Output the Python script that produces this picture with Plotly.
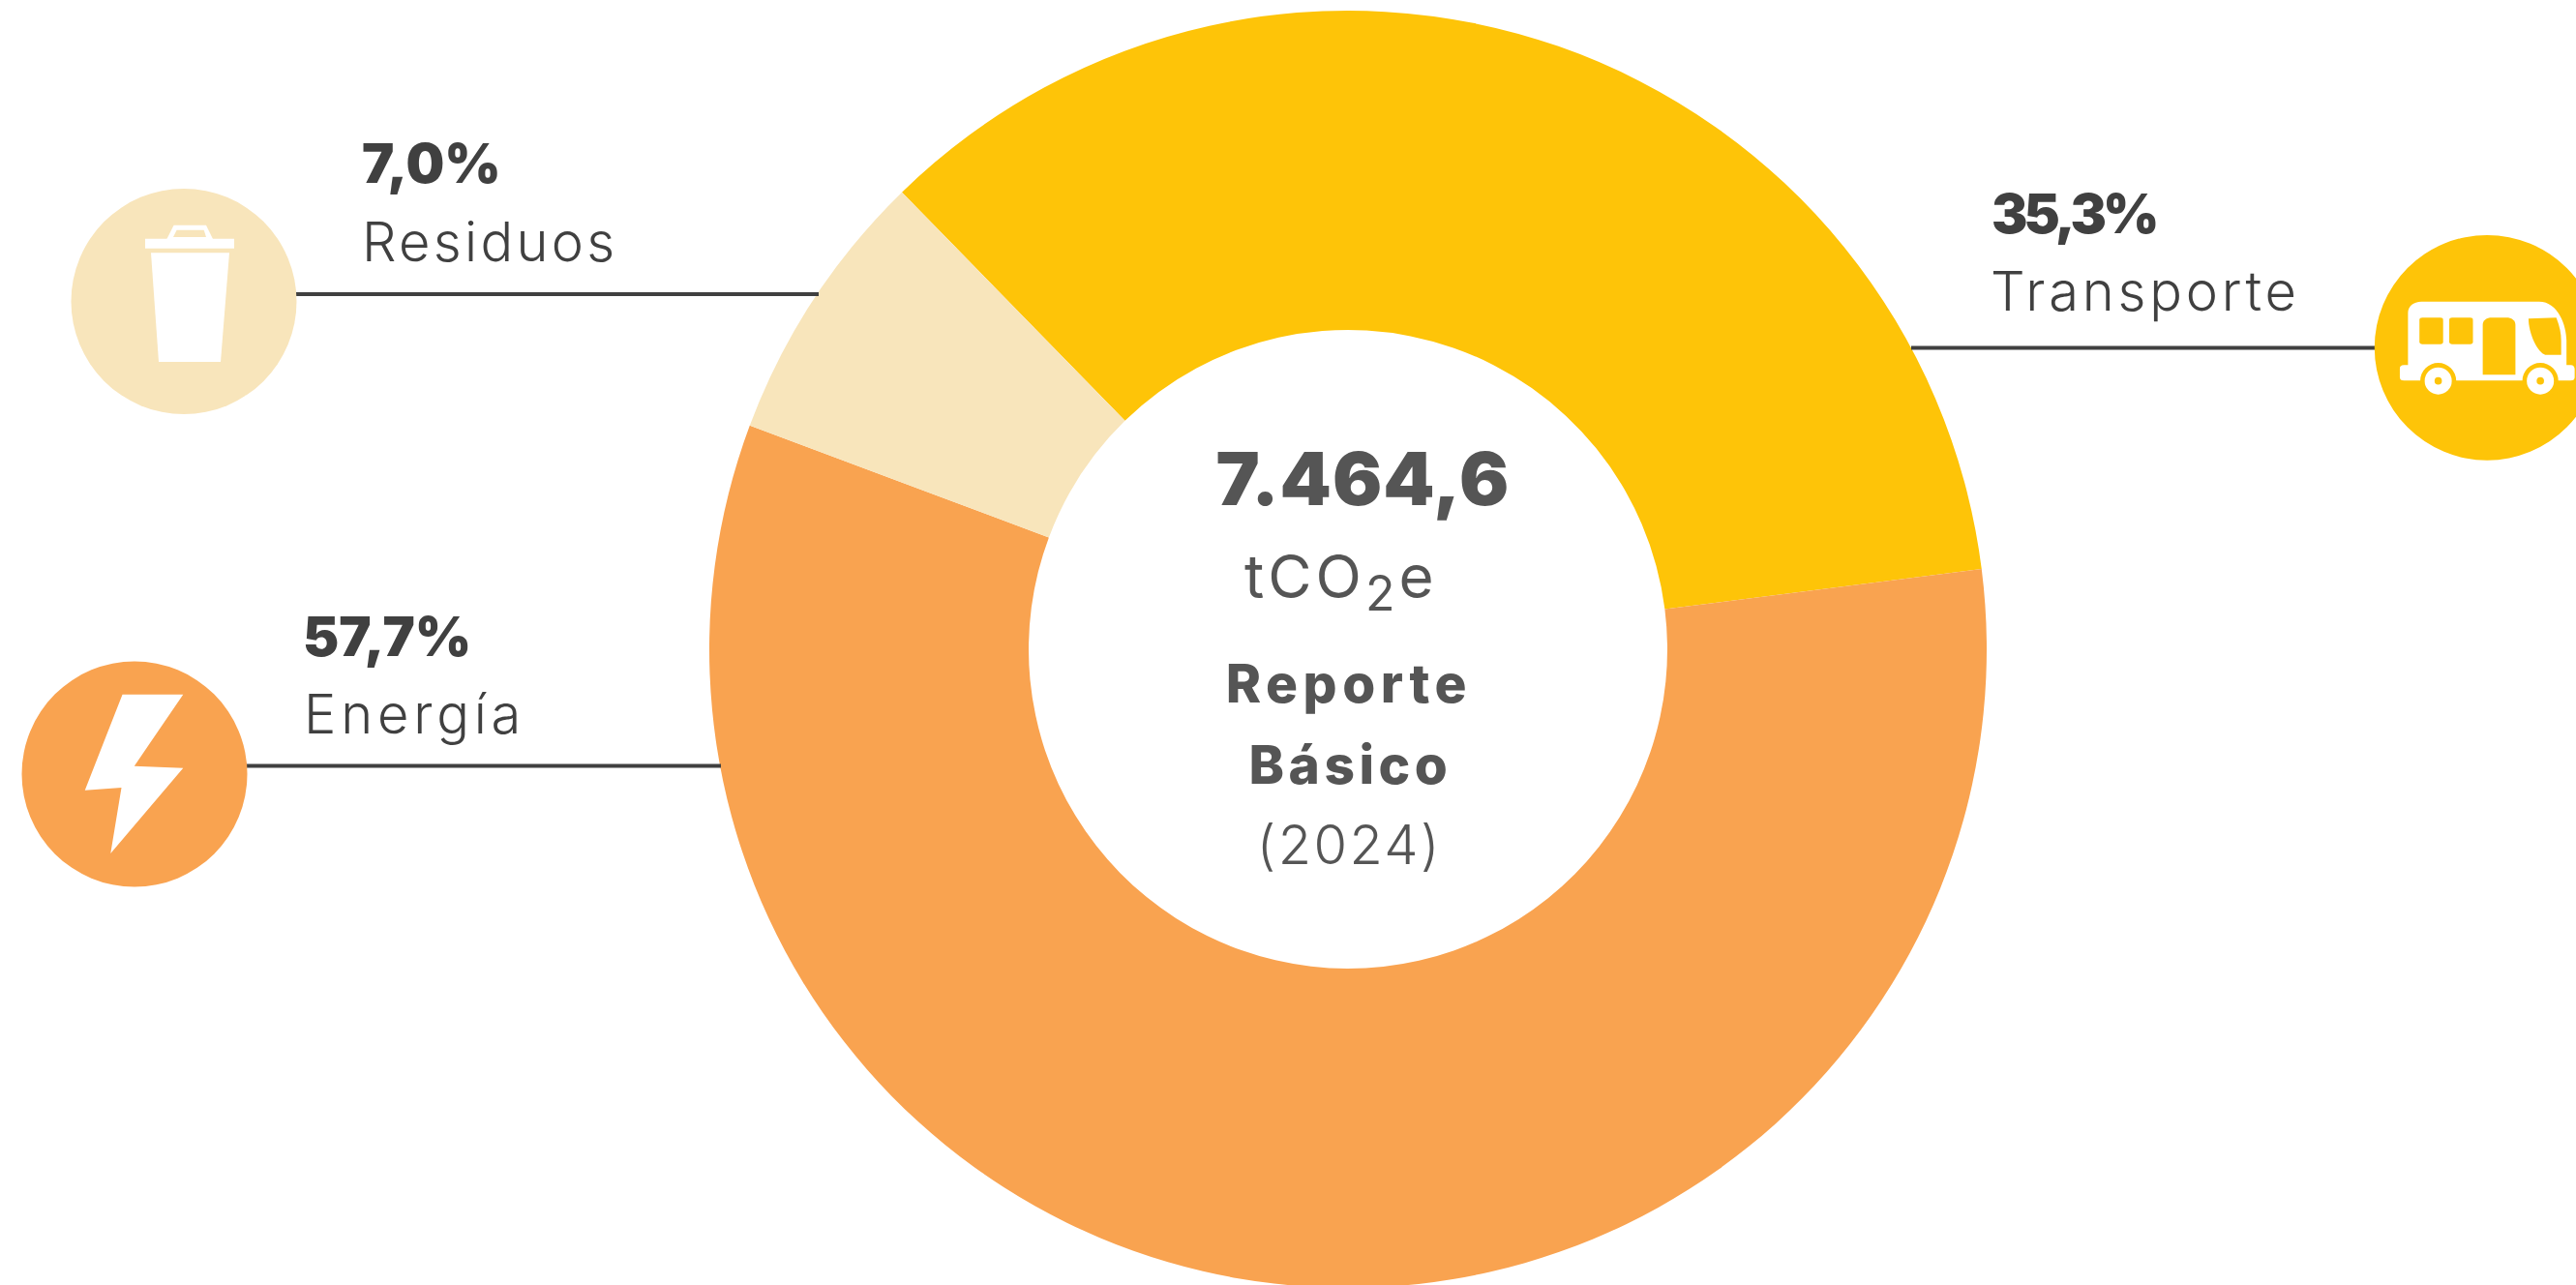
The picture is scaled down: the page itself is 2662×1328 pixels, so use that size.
import json
import plotly.graph_objects as go

W, H = 2662, 1342

categories = ["Transporte", "Energía", "Residuos"]
shares = [35.3, 57.7, 7.0]
share_labels = ["35,3%", "57,7%", "7,0%"]
colors = ["#FEC408", "#F9A350", "#F8E5BB"]
total_label = "7.464,6"
unit_label = "tCO<sub><span style=\"font-size:50px\">2</span></sub>e"
report_lines = ["Reporte", "Básico"]
year_label = "(2024)"

DARK = "#404040"
MID = "#555555"
FONT = "Inter"


def X(p):
    return p / W


def Y(p):
    return 1 - p / H


def path(cmds):
    out = []
    for c in cmds:
        if isinstance(c, str):
            out.append(c)
        else:
            out.append(f"{X(c[0]):.6f},{Y(c[1]):.6f}")
    return " ".join(out)


CX, CY, R = 1393, 671, 660
fig = go.Figure(go.Pie(
    labels=categories, values=shares, sort=False, direction="clockwise",
    rotation=-44.3, hole=0.5, textinfo="none", hoverinfo="label+percent",
    marker=dict(colors=colors, line=dict(width=0)),
    domain=dict(x=[X(CX - R), X(CX + R)], y=[Y(CY + R), Y(CY - R)]),
    showlegend=False,
))

shapes = []


def line(x0, x1, y):
    shapes.append(dict(type="line", xref="paper", yref="paper", x0=X(x0), x1=X(x1), y0=Y(y), y1=Y(y),
                       line=dict(color=DARK, width=4), layer="above"))


def circle(cx, cy, r, color):
    shapes.append(dict(type="circle", xref="paper", yref="paper", x0=X(cx - r), x1=X(cx + r),
                       y0=Y(cy - r), y1=Y(cy + r), fillcolor=color, line=dict(width=0), layer="above"))


def fill(cmds, color):
    shapes.append(dict(type="path", xref="paper", yref="paper", path=path(cmds),
                       fillcolor=color, line=dict(width=0), layer="above"))


def poly(pts, color):
    cmds = []
    for i, p in enumerate(pts):
        cmds += ["M" if i == 0 else "L", p]
    cmds.append("Z")
    fill(cmds, color)


line(306, 846, 304)
line(255, 745, 791.5)
line(1975, 2454, 359.5)

# Residuos icon
circle(190, 311.5, 116.5, colors[2])
poly([(172.4, 247), (179.6, 232.7), (213, 232.7), (220, 247)], "#FFFFFF")
poly([(182.6, 237.7), (210.7, 237.7), (213, 245), (179, 245)], colors[2])
poly([(150, 246.7), (242, 246.7), (242, 256.7), (150, 256.7)], "#FFFFFF")
poly([(156, 261.3), (237, 261.3), (228, 374), (164, 374)], "#FFFFFF")

# Energía icon
circle(139, 800, 116.5, colors[1])
bolt = [(248, 353), (371, 353), (272, 575), (371, 581), (224, 846), (246, 642), (172, 650)]
poly([(a / 1.96, 600 + b / 3) for a, b in bolt], "#FFFFFF")

# Transporte icon
circle(2570.2, 359.3, 116.4, colors[0])


def bz(a, b):
    return (2000 + a / 2.369, 170 + b / 3)


fill(["M", bz(1157, 622), "L", bz(1157, 460), "C", bz(1157, 440), bz(1170, 425), bz(1190, 425),
      "L", bz(1478, 425), "C", bz(1525, 425), bz(1545, 500), bz(1545, 545),
      "L", bz(1545, 622), "L", bz(1555, 622), "C", bz(1562, 622), bz(1565, 628), bz(1565, 635),
      "L", bz(1565, 660), "C", bz(1565, 666), bz(1562, 670), bz(1555, 670),
      "L", bz(1147, 670), "C", bz(1140, 670), bz(1137, 666), bz(1137, 660),
      "L", bz(1137, 632), "C", bz(1137, 626), bz(1140, 622), bz(1147, 622), "Z"], "#FFFFFF")
for wx in (1231, 1481):
    c = bz(wx, 671)
    circle(c[0], c[1], 18.6, colors[0])
    circle(c[0], c[1], 14, "#FFFFFF")
    circle(c[0], c[1], 3.8, colors[0])
fill(["M", bz(1185, 482), "C", bz(1185, 477), bz(1188, 475), bz(1192, 475), "L", bz(1236, 475),
      "C", bz(1241, 475), bz(1243, 477), bz(1243, 482), "L", bz(1243, 550), "C", bz(1243, 555), bz(1241, 557), bz(1236, 557),
      "L", bz(1192, 557), "C", bz(1188, 557), bz(1185, 555), bz(1185, 550), "Z"], colors[0])
fill(["M", bz(1258, 482), "C", bz(1258, 477), bz(1261, 475), bz(1265, 475), "L", bz(1309, 475),
      "C", bz(1314, 475), bz(1316, 477), bz(1316, 482), "L", bz(1316, 550), "C", bz(1316, 555), bz(1314, 557), bz(1309, 557),
      "L", bz(1265, 557), "C", bz(1261, 557), bz(1258, 555), bz(1258, 550), "Z"], colors[0])
fill(["M", bz(1340, 652), "L", bz(1340, 497), "C", bz(1340, 483), bz(1350, 475), bz(1362, 475),
      "L", bz(1398, 475), "C", bz(1410, 475), bz(1420, 483), bz(1420, 497), "L", bz(1420, 652), "Z"], colors[0])
fill(["M", bz(1452, 478), "L", bz(1520, 475), "C", bz(1528, 500), bz(1532, 525), bz(1532, 545),
      "L", bz(1532, 590), "L", bz(1493, 590), "C", bz(1475, 585), bz(1452, 525), bz(1452, 478), "Z"], colors[0])

annotations = []
spacing = []


def text(s, x, y, size, weight, color, anchor="left", ls=0):
    annotations.append(dict(text=s, x=X(x), y=Y(y), xref="paper", yref="paper", showarrow=False,
                            xanchor=anchor, yanchor="middle", align=anchor,
                            font=dict(family=FONT, size=size, weight=weight, color=color),
                            borderpad=0))
    spacing.append(ls)


text(share_labels[2], 373, 169, 56, 900, DARK, ls=0)
text(categories[2], 373, 250, 56, 300, DARK, ls=3.3)
text(share_labels[1], 312, 658, 56, 900, DARK, ls=0)
text(categories[1], 313, 738, 56, 300, DARK, ls=4.8)
text(share_labels[0], 2057, 221, 56, 900, DARK, ls=-4)
text(categories[0], 2056, 301, 56, 300, DARK, ls=3.8)
text(total_label, 1408, 494, 76, 900, MID, "center", ls=1)
text(unit_label, 1386, 600, 62, 400, MID, "center", ls=4)
text(report_lines[0], 1394, 706, 55, 800, MID, "center", ls=5.5)
text(report_lines[1], 1395, 790, 55, 800, MID, "center", ls=4.5)
text(year_label, 1394, 873, 56, 300, MID, "center", ls=2.4)

fig.update_layout(width=W, height=H, margin=dict(l=0, r=0, t=0, b=0), paper_bgcolor="#FFFFFF",
                  shapes=shapes, annotations=annotations)

post = ("document.body.style.margin='0';document.documentElement.style.overflow='hidden';"
        "document.body.style.overflow='hidden';"
        "var ls=" + json.dumps(spacing) + ";"
        "document.querySelectorAll('.annotation-text').forEach(function(t,i){t.style.letterSpacing=ls[i]+'px';});")
fig.write_html("out.html", post_script=post, config=dict(displayModeBar=False))
